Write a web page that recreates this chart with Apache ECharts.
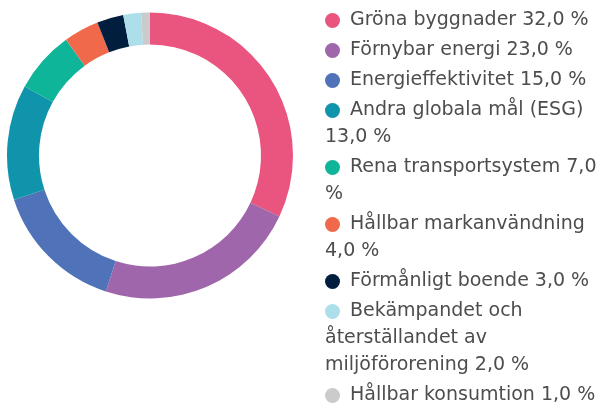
<!DOCTYPE html>
<html>
<head>
<meta charset="utf-8">
<script src="https://cdn.jsdelivr.net/npm/echarts@6/dist/echarts.min.js"></script>
<style>
  html, body { margin: 0; padding: 0; background: #ffffff; }
  #chart { width: 601px; height: 403px; }
</style>
</head>
<body>
<div id="chart"></div>
<script>
// Fund allocation by sustainability theme (share of holdings, %)
const categories = [
  'Gröna byggnader',
  'Förnybar energi',
  'Energieffektivitet',
  'Andra globala mål (ESG)',
  'Rena transportsystem',
  'Hållbar markanvändning',
  'Förmånligt boende',
  'Bekämpandet och återställandet av miljöförorening',
  'Hållbar konsumtion'
];
const shares = [32.0, 23.0, 15.0, 13.0, 7.0, 4.0, 3.0, 2.0, 1.0];
const colors = [
  '#E9557F', '#A066AB', '#5072B8', '#1094AC', '#0EB598',
  '#F0694B', '#021E3E', '#ADDFEB', '#CBCBCB'
];

const FONT_FAMILY = 'DejaVu Sans';
const FONT_SIZE = 19;
const LINE_HEIGHT = 27;
const WRAP_WIDTH = 285;   // available width for a legend entry
const DOT_SIZE = 15;
const DOT_GAP = 10;
const TEXT_COLOR = '#4d4d4d';

function formatShare(v) {
  return v.toFixed(1).replace('.', ',') + ' %';
}

// Greedy word wrap, measured with the legend font
const measureCtx = document.createElement('canvas').getContext('2d');
measureCtx.font = FONT_SIZE + 'px "' + FONT_FAMILY + '"';
function wrapWords(text, firstIndent) {
  const words = text.split(' ');
  const lines = [];
  let current = '';
  let indent = firstIndent;
  words.forEach(function (w) {
    const candidate = current ? current + ' ' + w : w;
    if (current && indent + measureCtx.measureText(candidate).width > WRAP_WIDTH) {
      lines.push(current);
      current = w;
      indent = 0;
    } else {
      current = candidate;
    }
  });
  lines.push(current);
  return lines;
}

const rich = {
  gap: { width: DOT_GAP },
  t: {
    fontFamily: FONT_FAMILY,
    fontSize: FONT_SIZE,
    lineHeight: LINE_HEIGHT,
    color: TEXT_COLOR
  }
};
colors.forEach(function (c, i) {
  rich['d' + i] = {
    width: DOT_SIZE,
    height: DOT_SIZE,
    borderRadius: DOT_SIZE / 2,
    backgroundColor: c
  };
});

const chart = echarts.init(document.getElementById('chart'), null, { renderer: 'canvas' });

chart.setOption({
  animation: false,
  color: colors,
  legend: {
    orient: 'vertical',
    left: 320,
    top: 7,
    height: 430,
    padding: 0,
    itemWidth: 0,
    itemHeight: 0,
    itemGap: 3,
    selectedMode: false,
    data: categories,
    formatter: function (name) {
      const i = categories.indexOf(name);
      const label = name + ' ' + formatShare(shares[i]);
      const lines = wrapWords(label, DOT_SIZE + DOT_GAP);
      return lines.map(function (line, k) {
        return (k === 0 ? '{d' + i + '|}{gap|}' : '') + '{t|' + line + '}';
      }).join('\n');
    },
    textStyle: {
      fontFamily: FONT_FAMILY,
      fontSize: FONT_SIZE,
      lineHeight: LINE_HEIGHT,
      color: TEXT_COLOR,
      rich: rich
    }
  },
  series: [{
    type: 'pie',
    center: [150, 155.5],
    radius: [111, 143],
    startAngle: 90,
    clockwise: true,
    label: { show: false },
    labelLine: { show: false },
    emphasis: { disabled: true },
    itemStyle: { borderWidth: 0 },
    data: categories.map(function (name, i) {
      return { name: name, value: shares[i] };
    })
  }]
});
</script>
</body>
</html>
